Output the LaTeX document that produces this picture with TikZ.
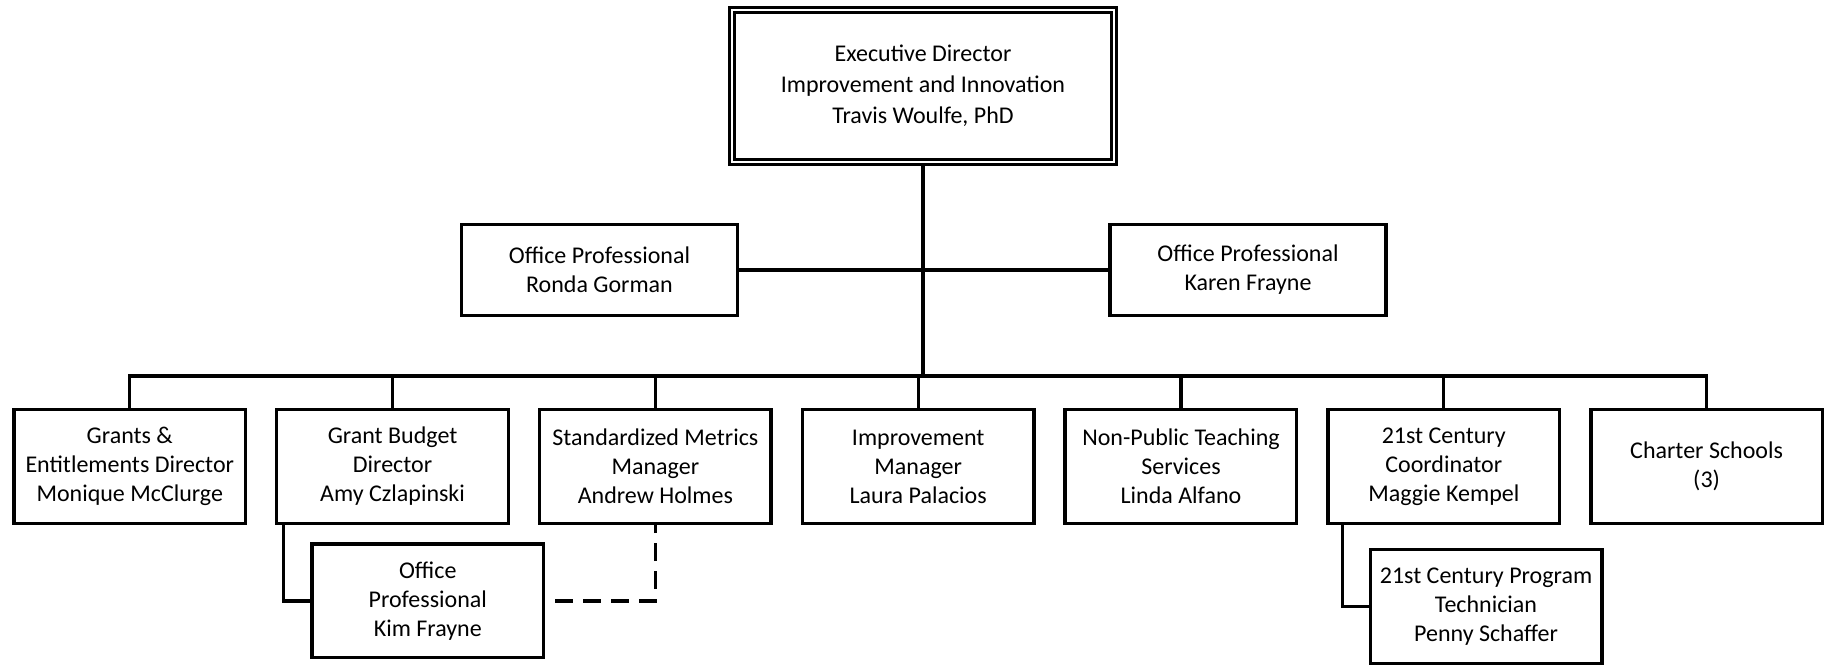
\documentclass[tikz,border=0pt]{standalone}
\usepackage{fontspec}
\setmainfont{Carlito}
\usepackage{tikz}
\usetikzlibrary{shapes.geometric, arrows}
\tikzstyle{headbox} = [rectangle, minimum width=191pt, minimum height=76pt, draw=black, line width=1.1pt, double, double distance=1.4pt, align=center, font=\fontsize{12}{15.5}\selectfont]
\tikzstyle{staffbox} = [rectangle, minimum width=137.8pt, minimum height=45.3pt, draw=black, line width=1.7pt, align=center, font=\fontsize{12}{14.5}\selectfont]
\tikzstyle{unitbox} = [rectangle, minimum width=115.8pt, minimum height=56.8pt, draw=black, line width=1.7pt, align=center, font=\fontsize{12}{14.5}\selectfont]
\tikzstyle{link} = [line width=1.6pt]
\tikzstyle{dashlink} = [line width=1.6pt, dash pattern=on 9pt off 5pt, dash phase=9pt]

\begin{document}
\begin{tikzpicture}[node distance=92pt]
\useasboundingbox (-461.5pt,43pt) rectangle (455pt,-290.5pt);
\node (exec) [headbox] {Executive Director\\Improvement and Innovation\\Travis Woulfe, PhD};
\node (ronda) [staffbox, below of=exec, xshift=-161.75pt] {Office Professional\\Ronda Gorman};
\node (karen) [staffbox, below of=exec, xshift=162.5pt] {Office Professional\\Karen Frayne};
\node (impr) [unitbox, below of=exec, xshift=-2.4pt, yshift=-98.25pt] {Improvement\\Manager\\Laura Palacios};
\node (metrics) [unitbox, node distance=131.4pt, left of=impr] {Standardized Metrics\\Manager\\Andrew Holmes};
\node (gbudget) [unitbox, node distance=131.4pt, left of=metrics] {Grant Budget\\Director\\Amy Czlapinski};
\node (grants) [unitbox, node distance=131.4pt, left of=gbudget] {Grants \&\\Entitlements Director\\Monique McClurge};
\node (nonpub) [unitbox, node distance=131.4pt, right of=impr] {Non-Public Teaching\\Services\\Linda Alfano};
\node (century) [unitbox, node distance=131.4pt, right of=nonpub] {21st Century\\Coordinator\\Maggie Kempel};
\node (charter) [unitbox, node distance=131.4pt, right of=century] {Charter Schools\\(3)};
\node (kim) [unitbox, node distance=67.25pt, below of=gbudget, xshift=17.6pt] {Office\\Professional\\Kim Frayne};
\node (penny) [unitbox, node distance=70pt, below of=century, xshift=21.1pt] {21st Century Program\\Technician\\Penny Schaffer};
\coordinate (bus) at ([yshift=16pt]impr.north);

\draw[link] (ronda) -- (karen);
\draw[link] (exec.south) -- (exec.south |- bus);
\draw[link] (grants.north) |- (bus) -| (charter.north);
\foreach \unit in {gbudget,metrics,impr,nonpub,century}
  \draw[link] (\unit.north) -- (\unit.north |- bus);
\draw[link] ([xshift=4.25pt]gbudget.south west) |- (kim.west);
\draw[link] ([xshift=8.25pt]century.south west) |- (penny.west);
\draw[dashlink] (kim.east) -| (metrics.south);
\end{tikzpicture}
\end{document}
